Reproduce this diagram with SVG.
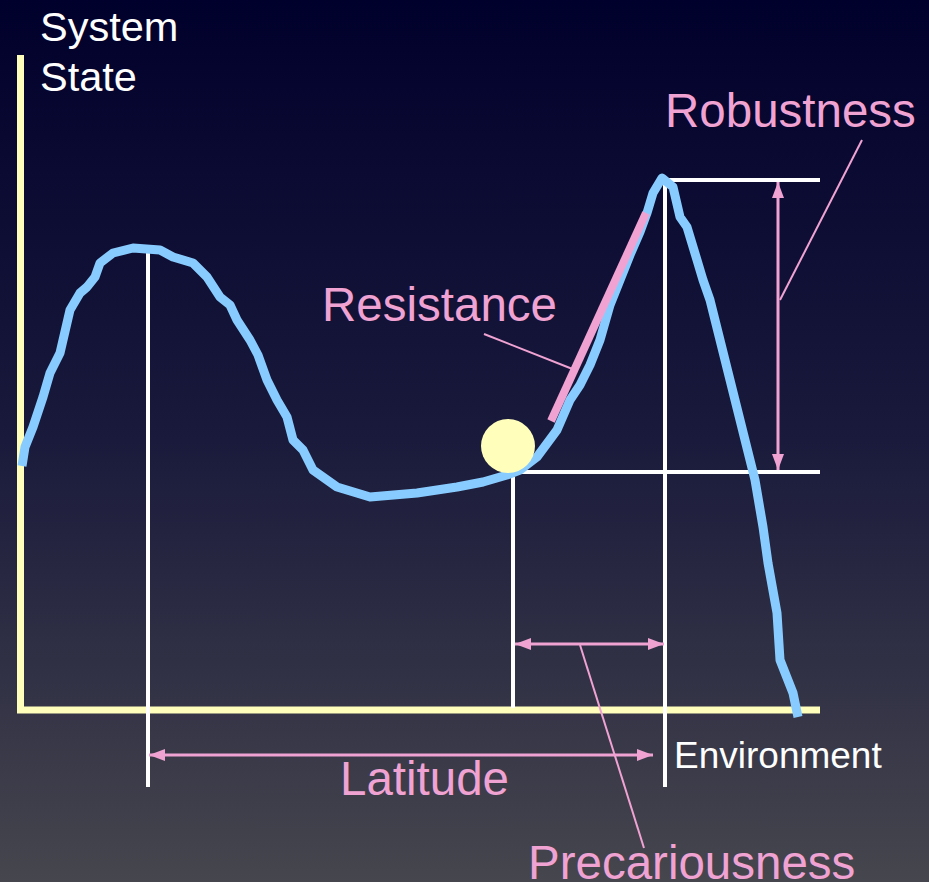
<svg xmlns="http://www.w3.org/2000/svg" width="929" height="882" viewBox="0 0 929 882">
<defs>
<linearGradient id="bg" x1="0" y1="0" x2="0" y2="1">
<stop offset="0" stop-color="#00002c"/>
<stop offset="0.5" stop-color="#1a1a3c"/>
<stop offset="1" stop-color="#46464e"/>
</linearGradient>
<marker id="ah" viewBox="0 0 16 12" refX="16" refY="6" markerWidth="16" markerHeight="12" markerUnits="userSpaceOnUse" orient="auto-start-reverse">
<path d="M0,0 L16,6 L0,12 Z" fill="#f0a3d3"/>
</marker>
<style>
.axis{stroke:#ffffbb;stroke-width:7;fill:none}
.guide{stroke:#ffffff;stroke-width:4;fill:none}
.dim{stroke:#f0a3d3;stroke-width:3;fill:none}
.lead{stroke:#f0a3d3;stroke-width:2;fill:none}
.curve{stroke:#88ccff;stroke-width:9;fill:none;stroke-linejoin:round}
.lbl{font-family:"Liberation Sans",Arial,sans-serif;fill:#f0a3d3;font-size:47.5px}
.wlbl{font-family:"Liberation Sans",Arial,sans-serif;fill:#ffffff}
</style>
</defs>
<rect width="929" height="882" fill="url(#bg)"/>
<g id="axes">
<path class="axis" d="M20.5,55 V710 H820"/>
</g>
<g id="guides">
<line class="guide" x1="148" y1="245" x2="148" y2="787"/>
<line class="guide" x1="513" y1="477" x2="513" y2="708"/>
<line class="guide" x1="665" y1="180" x2="665" y2="787"/>
<line class="guide" x1="663" y1="180" x2="820" y2="180"/>
<line class="guide" x1="520" y1="472" x2="820" y2="472"/>
</g>
<g id="curve">
<path class="curve" d="M22,466 L25,447 L33,427 L43,397 L50,373 L60,353 L70,310 L80,293 L87,287 L95,277 L100,263 L113,253 L133,248 L160,250 L173,257 L193,263 L207,277 L220,297 L230,305 L237,320 L250,340 L258,355 L267,380 L277,400 L287,417 L293,440 L303,450 L313,470 L337,487 L370,497 L417,493 L457,487 L483,482 L507,475 L520,470 L537,457 L557,430 L570,400 L580,385 L590,365 L600,340 L610,305 L620,280 L630,255 L640,232 L647,213 L653,193 L662,178 L673,187 L680,217 L687,227 L697,260 L703,280 L710,300 L720,340 L730,380 L740,420 L750,460 L755,480 L763,527 L768,563 L777,613 L780,660 L793,693 L798,717"/>
</g>
<g id="resistance-tangent">
<line x1="551" y1="421" x2="646" y2="213" stroke="#f0a3d3" stroke-width="8"/>
</g>
<g id="ball">
<circle cx="508" cy="446" r="27" fill="#ffffbb"/>
</g>
<g id="connectors">
<line class="dim" x1="778" y1="182" x2="778" y2="470" marker-start="url(#ah)" marker-end="url(#ah)"/>
<line class="dim" x1="515" y1="644" x2="664" y2="644" marker-start="url(#ah)" marker-end="url(#ah)"/>
<line class="dim" x1="149" y1="755" x2="653" y2="755" marker-start="url(#ah)" marker-end="url(#ah)"/>
<line class="lead" x1="862" y1="140" x2="780" y2="300"/>
<line class="lead" x1="484" y1="334" x2="575" y2="370"/>
<line class="lead" x1="580" y1="645" x2="644" y2="848"/>
</g>
<g id="labels">
<text class="wlbl" x="40" y="41" font-size="41.5">System</text>
<text class="wlbl" x="40" y="91" font-size="41.5">State</text>
<text class="lbl" x="665" y="127">Robustness</text>
<text class="lbl" x="322" y="321">Resistance</text>
<text class="lbl" x="340" y="795">Latitude</text>
<text class="lbl" x="528" y="879">Precariousness</text>
<text class="wlbl" x="674" y="768" font-size="37">Environment</text>
</g>
</svg>
